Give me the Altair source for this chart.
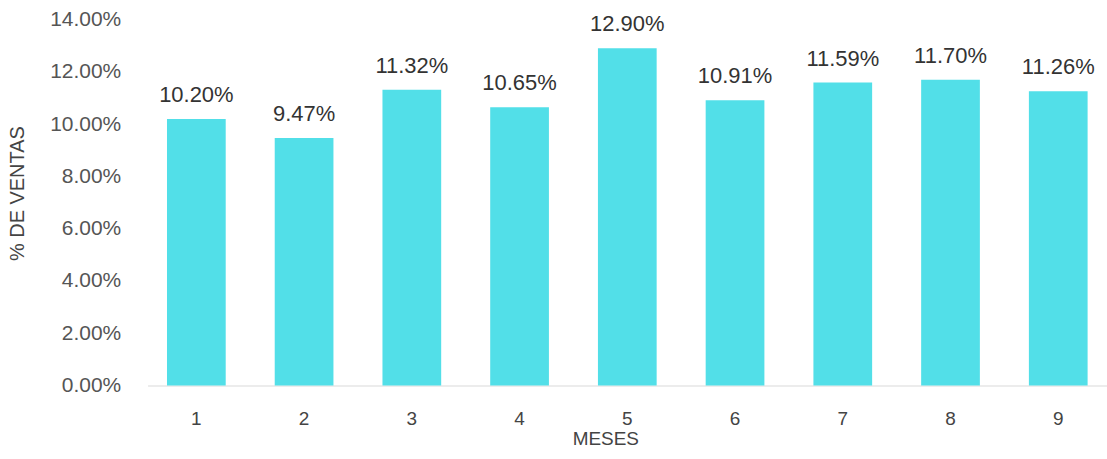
import altair as alt
import pandas as pd

meses = ["1", "2", "3", "4", "5", "6", "7", "8", "9"]
ventas = [10.20, 9.47, 11.32, 10.65, 12.90, 10.91, 11.59, 11.70, 11.26]

df = pd.DataFrame({"mes": meses, "pct": [v / 100 for v in ventas]})

FONT = "Liberation Sans"

base = alt.Chart(df).encode(
    x=alt.X(
        "mes:N",
        sort=meses,
        scale=alt.Scale(paddingInner=0.455, paddingOuter=0.18),
        axis=alt.Axis(
            title="MESES",
            labelAngle=0,
            labelFontSize=19,
            labelColor="#444444",
            labelFont=FONT,
            labelPadding=24,
            tickSize=0,
            domainColor="#ececec",
            domainWidth=2,
            titleFont=FONT,
            titleFontSize=19,
            titleFontWeight="normal",
            titleColor="#444444",
            titleX=459,
            titleY=53,
            titleBaseline="middle",
            titleAlign="center",
        ),
    ),
    y=alt.Y(
        "pct:Q",
        scale=alt.Scale(domain=[0, 0.14], nice=False),
        axis=alt.Axis(
            title="% DE VENTAS",
            format=".2%",
            values=[0, 0.02, 0.04, 0.06, 0.08, 0.10, 0.12, 0.14],
            grid=False,
            domain=False,
            tickSize=0,
            labelPadding=27,
            labelFontSize=21,
            labelColor="#555555",
            labelFont=FONT,
            titleFont=FONT,
            titleFontSize=20,
            titleFontWeight="normal",
            titleColor="#444444",
            titleX=-130,
            titleY=174,
            titleBaseline="middle",
            titleAlign="center",
        ),
    ),
)

bars = base.mark_bar(color="#52dfe8")
labels = base.mark_text(
    baseline="alphabetic", dy=-17, fontSize=22, font=FONT, color="#333333"
).encode(text=alt.Text("pct:Q", format=".2%"))

chart = (
    (bars + labels)
    .properties(
        width=962,
        height=367,
        background="white",
        autosize=alt.AutoSizeParams(type="none"),
        padding={"left": 148, "top": 19, "right": 0, "bottom": 73},
    )
    .configure_view(strokeWidth=0, stroke="transparent")
)

chart.save("out.html", embed_options={"renderer": "svg", "actions": False})
